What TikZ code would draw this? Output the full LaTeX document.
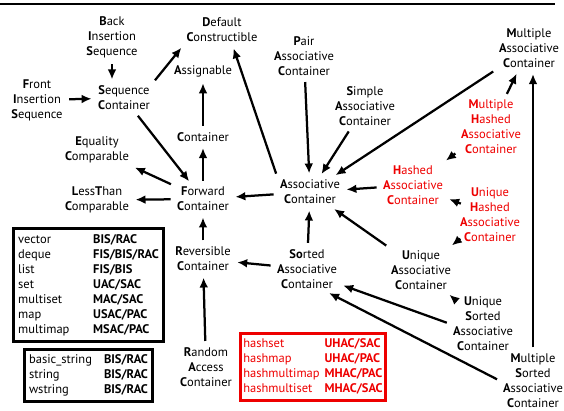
\documentclass[tikz,border=0pt]{standalone}
\usepackage{fontspec}
\setmainfont{PT Sans}
\usetikzlibrary{arrows.meta}
\definecolor{HashRed}{RGB}{238,0,0}
\newcommand{\ini}[1]{\textbf{#1}}
\tikzset{
  concept/.style={align=center,inner sep=2pt},
  hashed/.style={concept,text=HashRed},
  modeltab/.style={draw,line width=2.4pt,inner xsep=4pt,inner ysep=3pt},
  arrow/.style={-{Latex[length=8pt,width=7pt]},line width=1.8pt,
    shorten >=3pt,shorten <=3pt}
}

\begin{document}
\begin{tikzpicture}[x=0.8pt,y=-0.8pt]
\useasboundingbox (0,0) rectangle (564,410);
\draw[line width=1.2pt] (0,4) -- (555,4);

\node[concept] (bis) at (112,37) {\ini{B}ack\\\ini{I}nsertion\\\ini{S}equence};
\node[concept] (fis) at (37,100) {\ini{F}ront\\\ini{I}nsertion\\\ini{S}equence};
\node[concept] (sc) at (124,98) {\ini{S}equence\\\ini{C}ontainer};
\node[concept] (dc) at (222,30) {\ini{D}efault\\\ini{C}onstructible};
\node[concept] (asg) at (203,71) {\ini{A}ssignable};
\node[concept] (cont) at (203,137) {\ini{C}ontainer};
\node[concept] (ec) at (97,150) {\ini{E}quality\\\ini{C}omparable};
\node[concept] (ltc) at (97,200) {\ini{L}ess\ini{T}han\\\ini{C}omparable};
\node[concept] (fc) at (203,199) {\ini{F}orward\\\ini{C}ontainer};
\node[concept] (rc) at (203,259) {\ini{R}eversible\\\ini{C}ontainer};
\node[concept] (rac) at (206,367) {\ini{R}andom\\\ini{A}ccess\\\ini{C}ontainer};
\node[concept] (pac) at (304,56) {\ini{P}air\\\ini{A}ssociative\\\ini{C}ontainer};
\node[concept] (sac) at (365,106) {\ini{S}imple\\\ini{A}ssociative\\\ini{C}ontainer};
\node[concept] (ac) at (310,192) {\ini{A}ssociative\\\ini{C}ontainer};
\node[concept] (mac) at (529,48) {\ini{M}ultiple\\\ini{A}ssociative\\\ini{C}ontainer};
\node[hashed] (mhac) at (491,127) {\ini{M}ultiple\\\ini{H}ashed\\\ini{A}ssociative\\\ini{C}ontainer};
\node[hashed] (hac) at (413,185) {\ini{H}ashed\\\ini{A}ssociative\\\ini{C}ontainer};
\node[hashed] (uhac) at (490,215) {\ini{U}nique\\\ini{H}ashed\\\ini{A}ssociative\\\ini{C}ontainer};
\node[concept] (uac) at (421,270) {\ini{U}nique\\\ini{A}ssociative\\\ini{C}ontainer};
\node[concept] (srac) at (307,269) {\ini{So}rted\\\ini{A}ssociative\\\ini{C}ontainer};
\node[concept] (usac) at (483,324) {\ini{U}nique\\\ini{S}orted\\\ini{A}ssociative\\\ini{C}ontainer};
\node[concept] (msac) at (533,381) {\ini{M}ultiple\\\ini{S}orted\\\ini{A}ssociative\\\ini{C}ontainer};

\node[modeltab] (seqtab) at (88.5,285) {\begin{tabular}{@{}p{60pt}@{}l@{}}
vector & \textbf{BIS/RAC}\\
deque & \textbf{FIS/BIS/RAC}\\
list & \textbf{FIS/BIS}\\
set & \textbf{UAC/SAC}\\
multiset & \textbf{MAC/SAC}\\
map & \textbf{USAC/PAC}\\
multimap & \textbf{MSAC/PAC}
\end{tabular}};
\node[modeltab] (strtab) at (88.5,375.5) {\begin{tabular}{@{}p{60pt}@{}l@{}}
basic\_string & \textbf{BIS/RAC}\\
string & \textbf{BIS/RAC}\\
wstring & \textbf{BIS/RAC}
\end{tabular}};
\node[modeltab,draw=HashRed,text=HashRed,inner xsep=2.5pt] (hashtab) at (313,367) {\begin{tabular}{@{}p{65pt}@{}l@{}}
hashset & \textbf{UHAC/SAC}\\
hashmap & \textbf{UHAC/PAC}\\
hashmultimap & \textbf{MHAC/PAC}\\
hashmultiset & \textbf{MHAC/SAC}
\end{tabular}};

\draw[arrow] (bis) -- (bis |- sc.north);
\draw[arrow] (fis) -- (sc);
\draw[arrow] (sc.north east) -- (dc.south west);
\draw[arrow] (sc) -- (fc);
\draw[arrow] (cont) -- (asg);
\draw[arrow] (fc) -- (cont);
\draw[arrow] (fc) -- (ec);
\draw[arrow] (fc) -- (ltc);
\draw[arrow] (rc) -- (fc);
\draw[arrow] (rac) -- (rc);
\draw[arrow] (ac) -- (fc);
\draw[arrow] (ac.north west) -- (dc.-55);
\draw[arrow] (pac) -- (ac);
\draw[arrow] (sac) -- (ac);
\draw[arrow] (mac) -- (ac);
\draw[arrow] (hac) -- (ac);
\draw[arrow] (mhac) -- (hac);
\draw[arrow] (mhac) -- (mac);
\draw[arrow] (uhac) -- (hac);
\draw[arrow] (uhac) -- (uac);
\draw[arrow] (uac) -- (ac);
\draw[arrow] (srac) -- (ac);
\draw[arrow] (srac) -- (rc);
\draw[arrow] (usac) -- (uac);
\draw[arrow] (usac.west) -- (srac.-25);
\draw[arrow] (msac.west) -- (srac.-50);
\draw[arrow] (msac.north) -- (msac.north |- mac.south);

\end{tikzpicture}
\end{document}
